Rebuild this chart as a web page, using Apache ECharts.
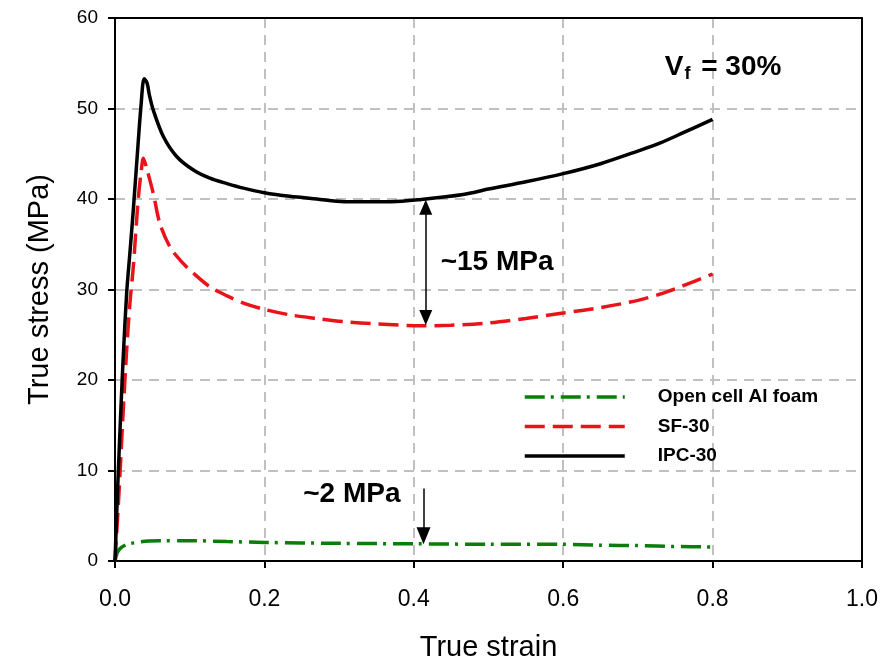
<!DOCTYPE html>
<html>
<head>
<meta charset="utf-8">
<script src="https://cdn.jsdelivr.net/npm/echarts@6/dist/echarts.min.js"></script>
<style>html,body{margin:0;padding:0;background:#fff;}#c{width:894px;height:660px;}</style>
</head>
<body>
<div id="c"></div>
<script>
// ---- data ----
var xTicks = [0, 0.2, 0.4, 0.6, 0.8, 1.0];
var yTicks = [0, 10, 20, 30, 40, 50, 60];

var foamStrain = [0, 0.003, 0.007, 0.015, 0.025, 0.033, 0.045, 0.06, 0.1, 0.15, 0.2, 0.3, 0.4, 0.5, 0.6, 0.65, 0.7, 0.75, 0.8];
var foamStress = [0, 0.9, 1.4, 1.8, 2.0, 2.1, 2.2, 2.25, 2.25, 2.15, 2.05, 1.95, 1.9, 1.85, 1.85, 1.75, 1.7, 1.6, 1.55];

var sfStrain = [0, 0.005, 0.01, 0.0156, 0.02, 0.0245, 0.031, 0.035, 0.038, 0.042, 0.0513, 0.06, 0.0736, 0.09, 0.105, 0.127, 0.15, 0.172, 0.2, 0.234, 0.27, 0.307, 0.35, 0.41, 0.45, 0.5, 0.55, 0.6, 0.65, 0.7, 0.73, 0.76, 0.8];
var sfStress = [0, 7, 15, 23.3, 28.5, 32.5, 39.9, 43, 44.5, 43.5, 40.6, 37.3, 34.7, 33, 31.8, 30.3, 29.3, 28.5, 27.8, 27.2, 26.8, 26.45, 26.2, 26.0, 26.05, 26.3, 26.8, 27.4, 28.0, 28.8, 29.5, 30.4, 31.7];

var ipcStrain = [0, 0.004, 0.008, 0.011, 0.0156, 0.02, 0.0245, 0.031, 0.035, 0.039, 0.043, 0.046, 0.0513, 0.0647, 0.0825, 0.105, 0.127, 0.15, 0.172, 0.2, 0.234, 0.27, 0.307, 0.37, 0.41, 0.466, 0.5, 0.55, 0.6, 0.65, 0.7, 0.73, 0.76, 0.8];
var ipcStress = [0, 9, 17, 22.5, 29.6, 34.1, 38.8, 46.2, 50.5, 53.3, 52.8, 51.5, 49.8, 46.9, 44.7, 43.2, 42.3, 41.7, 41.2, 40.7, 40.3, 40.0, 39.7, 39.7, 39.95, 40.5, 41.1, 41.9, 42.8, 43.9, 45.3, 46.2, 47.3, 48.8];

var seriesNames = ['Open cell Al foam', 'SF-30', 'IPC-30'];

// arrows: [strain, stress from, stress to]
var gapArrow = [0.416, 39.1, 26.9];   // double arrow between IPC-30 and SF-30
var foamArrow = [0.413, 8.0, 2.8];    // down arrow onto foam curve
// annotations: [text, strain, stress] (left edge / vertical centre)
var annotations = [
  ['{v|V}{s|f}{v| = 30%}', 0.736, 54.6],
  ['~15 MPa', 0.436, 33.0],
  ['~2 MPa', 0.252, 7.4]
];

function zip(a, b) { return a.map(function (v, i) { return [v, b[i]]; }); }

var FONT = '"Liberation Sans", Arial, sans-serif';
var chart = echarts.init(document.getElementById('c'), null, {renderer: 'canvas'});

var gridLine = {show: true, lineStyle: {color: '#c0c0c0', width: 2, type: [10, 7]}};
var frameAxis = {
  axisLine: {show: true, onZero: false, lineStyle: {color: '#000', width: 2}},
  axisTick: {show: false}, axisLabel: {show: false}, splitLine: {show: false}
};

var option = {
  animation: false,
  backgroundColor: '#ffffff',
  grid: {left: 115, top: 18, width: 747, height: 543, show: false, containLabel: false, outerBoundsMode: 'none'},
  legend: {
    orient: 'vertical', left: 523, top: 387, padding: 0,
    itemWidth: 100, itemHeight: 20, itemGap: 9.5,
    data: seriesNames,
    itemStyle: {opacity: 0},
    lineStyle: {width: 3.5},
    textStyle: {fontFamily: FONT, fontSize: 19, fontWeight: 'bold', color: '#000', lineHeight: 20, padding: [0, 0, 0, 28]}
  },
  xAxis: [{
    type: 'value', min: xTicks[0], max: xTicks[xTicks.length - 1], interval: 0.2,
    name: 'True strain', nameLocation: 'middle', nameGap: 72,
    nameTextStyle: {fontFamily: FONT, fontSize: 29, color: '#000'},
    axisLine: {show: true, onZero: false, lineStyle: {color: '#000', width: 2}},
    axisTick: {show: true, inside: false, length: 7, lineStyle: {color: '#000', width: 2}},
    axisLabel: {fontFamily: FONT, fontSize: 23, color: '#000', margin: 27, formatter: function (v) { return v.toFixed(1); }},
    splitLine: gridLine
  }, Object.assign({type: 'value', position: 'top', min: 0, max: 1}, frameAxis)],
  yAxis: [{
    type: 'value', min: yTicks[0], max: yTicks[yTicks.length - 1], interval: 10,
    name: 'True stress (MPa)', nameLocation: 'middle', nameGap: 61,
    nameTextStyle: {fontFamily: FONT, fontSize: 29, color: '#000'},
    axisLine: {show: true, onZero: false, lineStyle: {color: '#000', width: 2}},
    axisTick: {show: true, inside: false, length: 7, lineStyle: {color: '#000', width: 2}},
    axisLabel: {fontFamily: FONT, fontSize: 19, color: '#000', margin: 17},
    splitLine: gridLine
  }, Object.assign({type: 'value', position: 'right', min: 0, max: 60}, frameAxis)],
  series: [
    {
      name: seriesNames[0], type: 'line', data: zip(foamStrain, foamStress),
      symbol: 'none', smooth: 0.3, color: '#0a7d0a', z: 3,
      lineStyle: {color: '#0a7d0a', width: 3.5, type: [20, 6, 3, 7]}
    },
    {
      name: seriesNames[1], type: 'line', data: zip(sfStrain, sfStress),
      symbol: 'none', smooth: 0.3, color: '#e8141a', z: 3,
      lineStyle: {color: '#e8141a', width: 3.5, type: [20, 8]}
    },
    {
      name: seriesNames[2], type: 'line', data: zip(ipcStrain, ipcStress),
      symbol: 'none', smooth: 0.3, color: '#000', z: 4,
      lineStyle: {color: '#000', width: 3.5},
      markLine: {
        silent: true, animation: false,
        label: {show: false},
        lineStyle: {color: '#000', width: 1.5, type: 'solid'},
        emphasis: {disabled: true},
        symbol: ['triangle', 'triangle'],
        symbolSize: [13, 15],
        data: [
          [{coord: [gapArrow[0], gapArrow[1]]}, {coord: [gapArrow[0], gapArrow[2]]}],
          [{coord: [foamArrow[0], foamArrow[1]], symbol: 'none'}, {coord: [foamArrow[0], foamArrow[2]], symbol: 'triangle', symbolSize: [14, 17]}]
        ]
      }
    }
  ]
};
chart.setOption(option);

var graphics = annotations.map(function (a) {
  var p = chart.convertToPixel({xAxisIndex: 0, yAxisIndex: 0}, [a[1], a[2]]);
  return {
    type: 'text', x: p[0], y: p[1], z: 10,
    style: {
      text: a[0], fill: '#000', align: 'left', verticalAlign: 'middle',
      font: 'bold 28px ' + FONT,
      rich: {
        v: {fontFamily: FONT, fontSize: 28, fontWeight: 'bold', fill: '#000', lineHeight: 32},
        s: {fontFamily: FONT, fontSize: 18, fontWeight: 'bold', fill: '#000', lineHeight: 32, verticalAlign: 'bottom', padding: [12, 3, 0, 1]}
      }
    }
  };
});
chart.setOption({graphic: graphics});
</script>
</body>
</html>
